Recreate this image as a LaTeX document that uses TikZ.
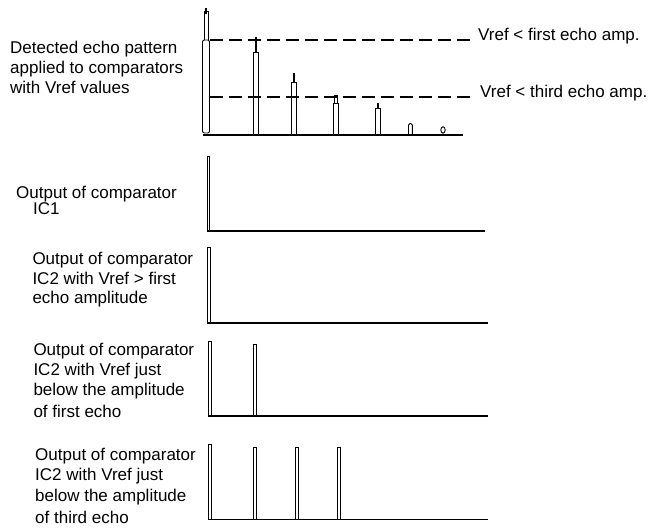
\documentclass[tikz,border=0pt]{standalone}
\usepackage{fontspec}
\setmainfont{Liberation Sans}
\begin{document}
\begin{tikzpicture}[x=1pt,y=-1pt,
  lbl/.style={anchor=base west,inner sep=0pt,font=\fontsize{17}{20}\selectfont},
  wave/.style={line width=1.1pt},
  thickbase/.style={line width=2.2pt},
  pulse/.style={line width=0.9pt},
  tip/.style={line width=2pt},
  refline/.style={line width=1.1pt,dash pattern=on 13pt off 6pt}]
\useasboundingbox (0,0) rectangle (650,529);
\fill[white] (0,0) rectangle (650,529);

% ---------- top panel: detected echo pattern ----------
\node[lbl] (d1) at (10,53.3) {Detected echo pattern};
\node[lbl] (d2) at (10,73.8) {applied to comparators};
\node[lbl] (d3) at (10,93.3) {with Vref values};

\draw[wave] (203,135) -- (463.3,135);
% main pulse
\draw[pulse] (204.5,40) -- (204.5,11) -- (208,11) -- (208,40);
\fill (205.2,8.5) rectangle (207.2,14);
\draw[pulse,rounded corners=2pt] (202.5,40) rectangle (209.5,133);
% echoes
\draw[pulse] (253.5,135) -- (253.5,52) -- (258,52) -- (258,135);
\draw[tip] (255.7,37.5) -- (255.7,52);
\draw[pulse] (291.2,135) -- (291.2,82) -- (296,82) -- (296,135);
\draw[tip] (293.5,73.5) -- (293.5,82);
\draw[pulse] (333.5,135) -- (333.5,103.5) -- (338,103.5) -- (338,135);
\draw[pulse] (334.6,103.5) -- (334.6,95.5) -- (337,95.5) -- (337,103.5);
\draw[pulse] (375.2,135) -- (375.2,108.5) -- (380,108.5) -- (380,135);
\draw[tip] (377.5,103.5) -- (377.5,108.5);
\draw[pulse,rounded corners=1.5pt] (408.5,135) -- (408.5,123.5) -- (412.3,123.5) -- (412.3,135);
\draw[pulse] (443,130) ellipse [x radius=2.2pt, y radius=3.2pt];
% reference levels
\node[lbl] (vr1) at (478,41) {Vref < first echo amp.};
\node[lbl] (vr3) at (480,98) {Vref < third echo amp.};
\draw[refline] (209.5,40) -- (470.5,40);
\draw[refline] (209.5,97) -- (470.5,97);

% ---------- IC1 ----------
\node[lbl] (a1) at (16,198.3) {Output of comparator};
\node[lbl] (a2) at (33,215) {IC1};
\draw[pulse] (207,231) -- (207,156.5) -- (209.5,156.5) -- (209.5,231);
\draw[thickbase] (206.5,231) -- (485,231);

% ---------- IC2, Vref > first echo ----------
\node[lbl] (b1) at (32.3,265) {Output of comparator};
\node[lbl] (b2) at (32.3,284.3) {IC2 with Vref > first};
\node[lbl] (b3) at (32.3,303.3) {echo amplitude};
\draw[pulse] (207,323) -- (207,247.5) -- (210,247.5) -- (210,323);
\draw[thickbase] (206.5,323.3) -- (488.3,323.3);

% ---------- IC2, just below first echo ----------
\node[lbl] (c1) at (33.3,355) {Output of comparator};
\node[lbl] (c2) at (33.3,375) {IC2 with Vref just};
\node[lbl] (c3) at (33.3,395.5) {below the amplitude};
\node[lbl] (c4) at (33.3,417) {of first echo};
\draw[pulse] (208.5,416) -- (208.5,341) -- (211.5,341) -- (211.5,416);
\draw[pulse] (253.5,416) -- (253.5,344) -- (256.5,344) -- (256.5,416);
\draw[wave] (208,416) -- (488.3,416);

% ---------- IC2, just below third echo ----------
\node[lbl] (e1) at (35,460) {Output of comparator};
\node[lbl] (e2) at (35,480.5) {IC2 with Vref just};
\node[lbl] (e3) at (35,501) {below the amplitude};
\node[lbl] (e4) at (35,523) {of third echo};
\draw[pulse] (208.5,519.3) -- (208.5,444.5) -- (211.5,444.5) -- (211.5,519.3);
\draw[pulse] (253.5,519.3) -- (253.5,447.5) -- (256.5,447.5) -- (256.5,519.3);
\draw[pulse] (295.5,519.3) -- (295.5,447.5) -- (298.5,447.5) -- (298.5,519.3);
\draw[pulse] (337.5,519.3) -- (337.5,447.5) -- (340.5,447.5) -- (340.5,519.3);
\draw[wave] (208,519.3) -- (488.3,519.3);
\end{tikzpicture}
\end{document}
